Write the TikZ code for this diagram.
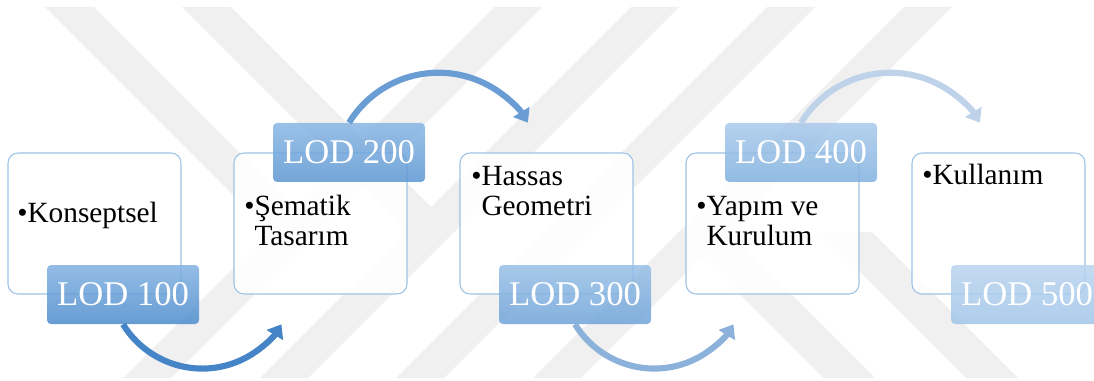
\documentclass[tikz,border=0pt]{standalone}
\usepackage{fontspec}
\setmainfont{Liberation Serif}
\usetikzlibrary{arrows.meta}

\definecolor{wmgray}{RGB}{240,240,240}
\definecolor{boxline}{RGB}{157,195,230}
\definecolor{lodtop1}{RGB}{130,177,226}
\definecolor{lodbot1}{RGB}{76,139,204}
\definecolor{lodtop2}{RGB}{136,182,228}
\definecolor{lodbot2}{RGB}{92,150,210}
\definecolor{lodtop3}{RGB}{152,191,231}
\definecolor{lodbot3}{RGB}{110,163,216}
\definecolor{lodtop4}{RGB}{168,201,235}
\definecolor{lodbot4}{RGB}{128,176,223}
\definecolor{lodtop5}{RGB}{185,212,239}
\definecolor{lodbot5}{RGB}{160,196,232}
\definecolor{arr1}{RGB}{68,132,199}
\definecolor{arr2}{RGB}{106,157,212}
\definecolor{arr3}{RGB}{140,178,220}
\definecolor{arr4}{RGB}{190,210,234}

\newcommand{\twoline}[2]{\begin{tabular}[t]{@{}l@{}l@{}}\textbullet&#1\\&#2\end{tabular}}

\begin{document}
\begin{tikzpicture}[x=.75pt, y=-.75pt,
  wmark/.style={fill=wmgray},
  cbox/.style={draw=boxline, line width=.8pt, fill=white, fill opacity=.93, rounded corners=7.5pt,
    minimum width=129.75pt, minimum height=105.75pt, inner sep=0},
  lodbox/.style={rounded corners=3pt, minimum width=114pt, minimum height=44.25pt, inner sep=0,
    fill opacity=.85, text opacity=1, text=white, font=\fontsize{26}{28}\selectfont},
  btxt/.style={anchor=base west, inner sep=0, font=\fontsize{22}{22.5}\selectfont},
  lodarc/.style={line width=4.6pt, -{Triangle[length=9.5pt,width=14pt]}}]
\useasboundingbox (0,0) rectangle (1094,381);
\clip (0,0) rectangle (1094,381);
% watermark
\foreach \b in {123,260,396,533}
  \fill[wmark] (\b,378) --++(48,0) --++(371,-371) --++(-48,0) --cycle;
\foreach \t in {45,182}
  \fill[wmark] (\t,7) --++(49,0) --++(225,225) --++(-49,0) --cycle;
\foreach \t in {677,820}
  \fill[wmark] (\t,232) --++(52,0) --++(146,146) --++(-52,0) --cycle;
% boxes
\foreach \i/\x in {1/8,2/234,3/460,4/686,5/912}
  \node[cbox] (box\i) at (\x+86.5,223.5) {};
% LOD labels
\foreach \i/\a in {1/south,2/north,3/south,4/north,5/south}
  \node[lodbox, top color=lodtop\i, bottom color=lodbot\i] (lod\i) at ([xshift=21.4pt]box\i.\a) {LOD \i00};
% texts
\node[btxt] (txt1) at (17,222) {\textbullet Konseptsel};
\node[btxt] (txt2) at (244,215) {\twoline{Şematik}{Tasarım}};
\node[btxt] (txt3) at (471,185) {\twoline{Hassas}{Geometri}};
\node[btxt] (txt4) at (696,215) {\twoline{Yapım ve}{Kurulum}};
\node[btxt] (txt5) at (922,184) {\textbullet Kullanım};
% arrows
\draw[lodarc, draw=arr1] (lod1.south) arc[start angle=148.4, end angle=31.6, radius=93];
\draw[lodarc, draw=arr2] (lod2.north) arc[start angle=-148.4, end angle=-31.6, radius=105];
\draw[lodarc, draw=arr3] (lod3.south) arc[start angle=148.4, end angle=31.6, radius=93];
\draw[lodarc, draw=arr4] (lod4.north) arc[start angle=-148.4, end angle=-31.6, radius=105];
\end{tikzpicture}
\end{document}
